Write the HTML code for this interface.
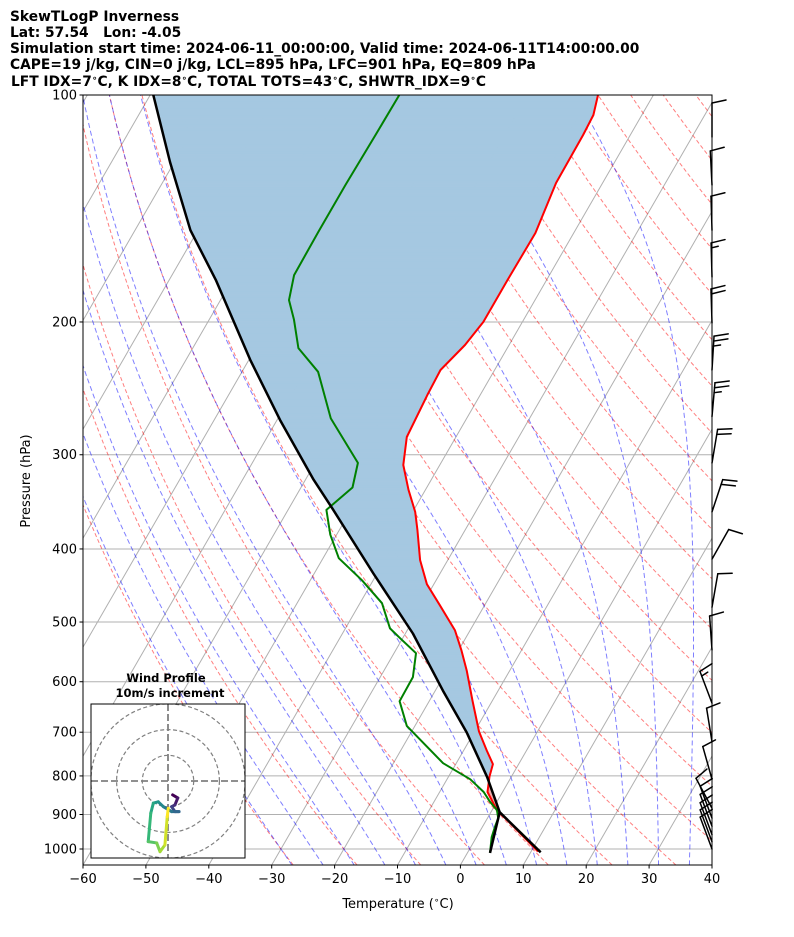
<!DOCTYPE html>
<html><head><meta charset="utf-8">
<style>
html,body{margin:0;padding:0;background:#fff;}
svg{display:block;font-family:"DejaVu Sans","Liberation Sans",sans-serif;}
</style></head>
<body>
<svg id="chart" width="794" height="937" viewBox="0 0 794 937" xmlns="http://www.w3.org/2000/svg">
<defs><clipPath id="plotclip"><rect x="83" y="95" width="629" height="770"/></clipPath>
<clipPath id="hodoclip"><rect x="91" y="704" width="154" height="154"/></clipPath></defs>
<g font-weight="bold" font-size="13.8px" fill="#000">
<text x="10" y="21">SkewTLogP Inverness</text>
<text x="10" y="37" xml:space="preserve">Lat: 57.54   Lon: -4.05</text>
<text x="10" y="53">Simulation start time: 2024-06-11_00:00:00, Valid time: 2024-06-11T14:00:00.00</text>
<text x="10" y="69">CAPE=19 j/kg, CIN=0 j/kg, LCL=895 hPa, LFC=901 hPa, EQ=809 hPa</text>
<text x="11" y="86" xml:space="preserve">LFT IDX=7<tspan font-size="9px" dy="-5">∘</tspan><tspan dy="5">C, K IDX=8</tspan><tspan font-size="9px" dy="-5">∘</tspan><tspan dy="5">C, TOTAL TOTS=43</tspan><tspan font-size="9px" dy="-5">∘</tspan><tspan dy="5">C, SHWTR_IDX=9</tspan><tspan font-size="9px" dy="-5">∘</tspan><tspan dy="5">C</tspan></text>
</g>
<g id="bg" clip-path="url(#plotclip)"></g>
<g id="fills" clip-path="url(#plotclip)"></g>
<g id="profiles" clip-path="url(#plotclip)"></g>
<g id="axes"></g>
<g id="barbs"></g>
<g id="hodo"></g>
</svg>
<script>
// ---- data ----
const tempP=[100,106.3,113,130.8,152.4,175.9,200,214.6,231.6,249.9,284.2,309.5,333.9,357.2,377.3,413.9,445.4,475.1,512.9,545.6,580.4,636.7,698.6,740.4,771.6,801.4,840.2,888.6,915.3,952,1008];
const tempT=[-48.8,-47.7,-47.5,-47.4,-46.1,-46.2,-46.2,-47.0,-48.6,-48.4,-47.8,-45.8,-42.7,-39.6,-37.6,-34.4,-31.1,-27.1,-22.4,-19.5,-16.8,-13.1,-9.3,-6.3,-4.1,-3.5,-2.4,0.8,3.3,6.5,11.1];
const dewP=[100,113,131.6,152,173.3,187.1,198.7,216.6,232.9,268.5,307.6,331.6,355,383,411.4,440,472,509.9,525.4,550,591.6,636.7,686.6,769.4,808.2,840.2,865.8,888.6,910,935,964,1012];
const dewT=[-80.4,-80.5,-80.7,-80.7,-80.6,-79.1,-76.5,-73.2,-67.9,-61.6,-53.2,-51.8,-53.9,-51.0,-47.5,-41.8,-36.5,-32.9,-30.4,-26.5,-24.8,-24.7,-21.3,-12.1,-6.3,-3.0,-1.1,0.8,1.7,2.0,2.4,3.6];
const parcelP=[100,122.7,151.1,175.9,224.5,269.9,323.8,355,431.1,517.9,616.4,700,803,893.8,1010];
const parcelT=[-119.5,-110.7,-101.2,-92.6,-79.8,-69.5,-58.7,-52.8,-40.6,-28.8,-18.8,-11.2,-3.8,1.4,11.6];
const mixP=[1012,893.8];
const mixT=[3.6,1.4];
const pTicks=[100,200,300,400,500,600,700,800,900,1000];
const tTicks=[-60,-50,-40,-30,-20,-10,0,10,20,30,40];
const barbP=[113.7,131.6,151.1,174.3,200.6,231.6,267,307.6,357.2,412.6,478,544.5,640.6,720.6,808.2,883,910,933,957,978,1000];
const barbU=[0,0.5,0.3,0.4,0.6,-1.5,-2.2,-3.3,-6.3,-4.9,-1.7,0.7,5.3,1.6,2.7,4.7,3.5,3.5,3.5,3.5,3.5];
const barbV=[-10,-10,-10,-15,-20,-25,-25,-19.7,-19,-8.7,-9.8,-9.9,-14,-9.9,-9.6,-8.8,-9.4,-9.4,-9.4,-9.4,-9.4];
const hodoU=[1.8,3.8,2.7,1.4,2.7,4.3,1.4,-1.8,-3.8,-5.7,-6.7,-7.7,-4.4,-3.1,-1.2,-0.3,0.1];
const hodoV=[-5.4,-6.6,-9.3,-10,-11.9,-11.9,-11.9,-10,-8.1,-8.6,-12.5,-23.6,-24.1,-27.5,-24.9,-13.9,-10.6];
const ringSpeeds=[10,20,30];

// ---- axes functions ----
const NS="http://www.w3.org/2000/svg";
const X0=83,X1=712,Y0=95,Y1=865,PXT=6.29,SK=0.5774;
function yOf(p){return Y0+754*Math.log10(p/100);}
function xOf(t,p){return X0+(t+60)*PXT+(Y1-yOf(p))*SK;}
function el(tag,attrs,parent){const e=document.createElementNS(NS,tag);for(const k in attrs)e.setAttribute(k,attrs[k]);parent.appendChild(e);return e;}
function ptsStr(P,T){return P.map((p,i)=>xOf(T[i],p).toFixed(1)+","+yOf(p).toFixed(1)).join(" ");}
const bg=document.getElementById('bg'),fills=document.getElementById('fills'),prof=document.getElementById('profiles'),axes=document.getElementById('axes'),barbs=document.getElementById('barbs'),hodo=document.getElementById('hodo');

for(let t=-160;t<=40;t+=10){
  const l=el('line',{x1:xOf(t,1050),y1:Y1,x2:xOf(t,40),y2:yOf(40),stroke:'#b0b0b0','stroke-width':1},bg);
  
  
}
pTicks.forEach(p=>{
  const l=el('line',{x1:X0,x2:X1,y1:yOf(p),y2:yOf(p),stroke:'#b0b0b0','stroke-width':1},bg);
  
  
});
const pGrid=[];for(let lp=Math.log(1050);lp>=Math.log(99);lp-=0.02)pGrid.push(Math.exp(lp));
for(let th=-30;th<=200;th+=10){
  const P=pGrid,T=P.map(p=>(th+273.15)*Math.pow(p/1000,0.2857)-273.15);
  const l=el('polyline',{points:ptsStr(P,T),fill:'none',stroke:'#ff0000','stroke-opacity':0.5,'stroke-width':1,'stroke-dasharray':'4,2.5'},bg);
  
  
}
function dTdlnp(T,p){const es=6.112*Math.exp(17.67*(T-273.15)/(T-29.65));const rs=0.622*es/(p-es);return (287*T+2.501e6*rs)/(1004+2.501e6*2.501e6*rs*0.622/(287*T*T));}
for(let t0=-30;t0<=45;t0+=5){
  const P=[],T=[];let T0=t0+273.15;
  let Tb=T0,lp=Math.log(1000);while(lp<Math.log(1050)){Tb+=dTdlnp(Tb,Math.exp(lp))*0.01;lp+=0.01;}
  P.push(Math.exp(lp));T.push(Tb-273.15);
  let Tc=Tb;while(lp>Math.log(99)){const h=-0.01;const k1=dTdlnp(Tc,Math.exp(lp));const k2=dTdlnp(Tc+h*k1,Math.exp(lp+h));Tc+=h*(k1+k2)/2;lp+=h;P.push(Math.exp(lp));T.push(Tc-273.15);}
  const l=el('polyline',{points:ptsStr(P,T),fill:'none',stroke:'#0000ff','stroke-opacity':0.5,'stroke-width':1,'stroke-dasharray':'5,3'},bg);
  
  
}
function interp(P,T,p){const lp=Math.log(p);for(let i=0;i<P.length-1;i++){const a=Math.log(P[i]),b=Math.log(P[i+1]);if((lp-a)*(lp-b)<=0){const f=(lp-a)/(b-a||1);return T[i]+f*(T[i+1]-T[i]);}}return null;}
const pTop=Math.max(tempP[0],parcelP[0]),pBot=Math.min(tempP[tempP.length-1],parcelP[parcelP.length-1]);
for(let lp=Math.log(pBot);lp>Math.log(pTop)+1e-9;lp-=0.01){
  const pa=Math.exp(lp),pb=Math.exp(Math.max(lp-0.01,Math.log(pTop)));
  const ea=interp(tempP,tempT,pa),eb=interp(tempP,tempT,pb),qa=interp(parcelP,parcelT,pa),qb=interp(parcelP,parcelT,pb);
  if(ea===null||eb===null||qa===null||qb===null)continue;
  const col=((ea-qa)+(eb-qb))>0?'#a5c8e1':'#efa9a9';
  const pts=[[xOf(ea,pa),yOf(pa)],[xOf(eb,pb),yOf(pb)],[xOf(qb,pb),yOf(pb)],[xOf(qa,pa),yOf(pa)]].map(a=>a[0].toFixed(2)+","+a[1].toFixed(2)).join(" ");
  const q=el('polygon',{points:pts,fill:col,stroke:col,'stroke-width':0.6},fills);
  
  
}
let l;
l=el('polyline',{points:ptsStr(tempP,tempT),fill:'none',stroke:'#ff0000','stroke-width':2,'stroke-linejoin':'round'},prof);


l=el('polyline',{points:ptsStr(dewP,dewT),fill:'none',stroke:'#008000','stroke-width':2,'stroke-linejoin':'round'},prof);


l=el('polyline',{points:ptsStr(parcelP,parcelT),fill:'none',stroke:'#000','stroke-width':2.5,'stroke-linejoin':'round'},prof);


l=el('polyline',{points:ptsStr(mixP,mixT),fill:'none',stroke:'#000','stroke-width':2.5},prof);



const fr=el('rect',{x:X0,y:Y0,width:X1-X0,height:Y1-Y0,fill:'none',stroke:'#000','stroke-width':1},axes);


pTicks.forEach(p=>{
  const y=yOf(p);
  el('line',{x1:X0-3.5,x2:X0,y1:y,y2:y,stroke:'#000'},axes);
  const t=el('text',{x:X0-6,y:y+4.5,'text-anchor':'end','font-size':'13px'},axes);t.textContent=p;
  
  
});
tTicks.forEach(v=>{
  const x=X0+(v+60)*PXT;
  el('line',{x1:x,x2:x,y1:Y1,y2:Y1+3.5,stroke:'#000'},axes);
  const t=el('text',{x:x,y:Y1+18,'text-anchor':'middle','font-size':'13px'},axes);t.textContent=v<0?'\u2212'+(-v):v;
  
  
});
let tt=el('text',{x:398,y:908,'text-anchor':'middle','font-size':'13px'},axes);tt.innerHTML='Temperature (<tspan font-size="9px" dy="-5">∘</tspan><tspan dy="5">C)</tspan>';


tt=el('text',{x:0,y:0,'text-anchor':'middle','font-size':'13px',transform:'translate(30,481) rotate(-90)'},axes);tt.textContent='Pressure (hPa)';



barbP.forEach((p,i)=>{
  const u=barbU[i],v=barbV[i],sp=Math.hypot(u,v);const bx=X1,by=yOf(p);
  const sx=-u/sp,sy=v/sp;const L=34;const tx=bx+sx*L,ty=by+sy*L;
  const g=el('g',{stroke:'#000','stroke-width':1.5,fill:'none','stroke-linecap':'round'},barbs);
  
  
  el('line',{x1:bx,y1:by,x2:tx,y2:ty},g);
  const px=-sy,py=sx;let rem=Math.round(sp/5)*5;let pos=0;
  while(rem>=10){const ox=tx-sx*pos,oy=ty-sy*pos;el('line',{x1:ox,y1:oy,x2:ox+px*14+sx*3,y2:oy+py*14+sy*3},g);rem-=10;pos+=5;}
  if(rem>=5){if(pos===0)pos=5;const ox=tx-sx*pos,oy=ty-sy*pos;el('line',{x1:ox,y1:oy,x2:ox+px*7+sx*1.5,y2:oy+py*7+sy*1.5},g);}
});

const HX=168,HY=781,HS=2.57;
const hb=el('rect',{x:91,y:704,width:154,height:154,fill:'#fff',stroke:'none'},hodo);


const hg=el('g',{'clip-path':'url(#hodoclip)'},hodo);
ringSpeeds.forEach(s=>{
  const c=el('circle',{cx:HX,cy:HY,r:s*HS,fill:'none',stroke:'#808080','stroke-width':1.2,'stroke-dasharray':'4,2.5'},hg);
  
  
});
el('line',{x1:91,x2:245,y1:HY,y2:HY,stroke:'#808080','stroke-width':1.8,'stroke-dasharray':'7,3'},hg);
el('line',{x1:HX,x2:HX,y1:704,y2:858,stroke:'#808080','stroke-width':1.8,'stroke-dasharray':'7,3'},hg);
const vir=[[68,1,84],[72,40,120],[62,74,137],[49,104,142],[38,130,142],[31,158,137],[53,183,121],[109,205,89],[180,222,44],[253,231,37]];
function viridis(f){const x=f*(vir.length-1),i=Math.min(Math.floor(x),vir.length-2),t=x-i;const c=vir[i].map((a,k)=>Math.round(a+(vir[i+1][k]-a)*t));return 'rgb('+c.join(',')+')';}
for(let i=0;i<hodoU.length-1;i++){
  const s=el('line',{x1:HX+hodoU[i]*HS,y1:HY-hodoV[i]*HS,x2:HX+hodoU[i+1]*HS,y2:HY-hodoV[i+1]*HS,stroke:viridis(i/(hodoU.length-2)),'stroke-width':3,'stroke-linecap':'round'},hg);
  
  
}
const hf=el('rect',{x:91,y:704,width:154,height:154,fill:'none',stroke:'#000','stroke-width':1},hodo);


tt=el('text',{x:166,y:682,'text-anchor':'middle','font-size':'11.5px','font-weight':'bold'},hodo);tt.textContent='Wind Profile';


tt=el('text',{x:170,y:697,'text-anchor':'middle','font-size':'11.5px','font-weight':'bold'},hodo);tt.textContent='10m/s increment';


</script>
</body></html>
